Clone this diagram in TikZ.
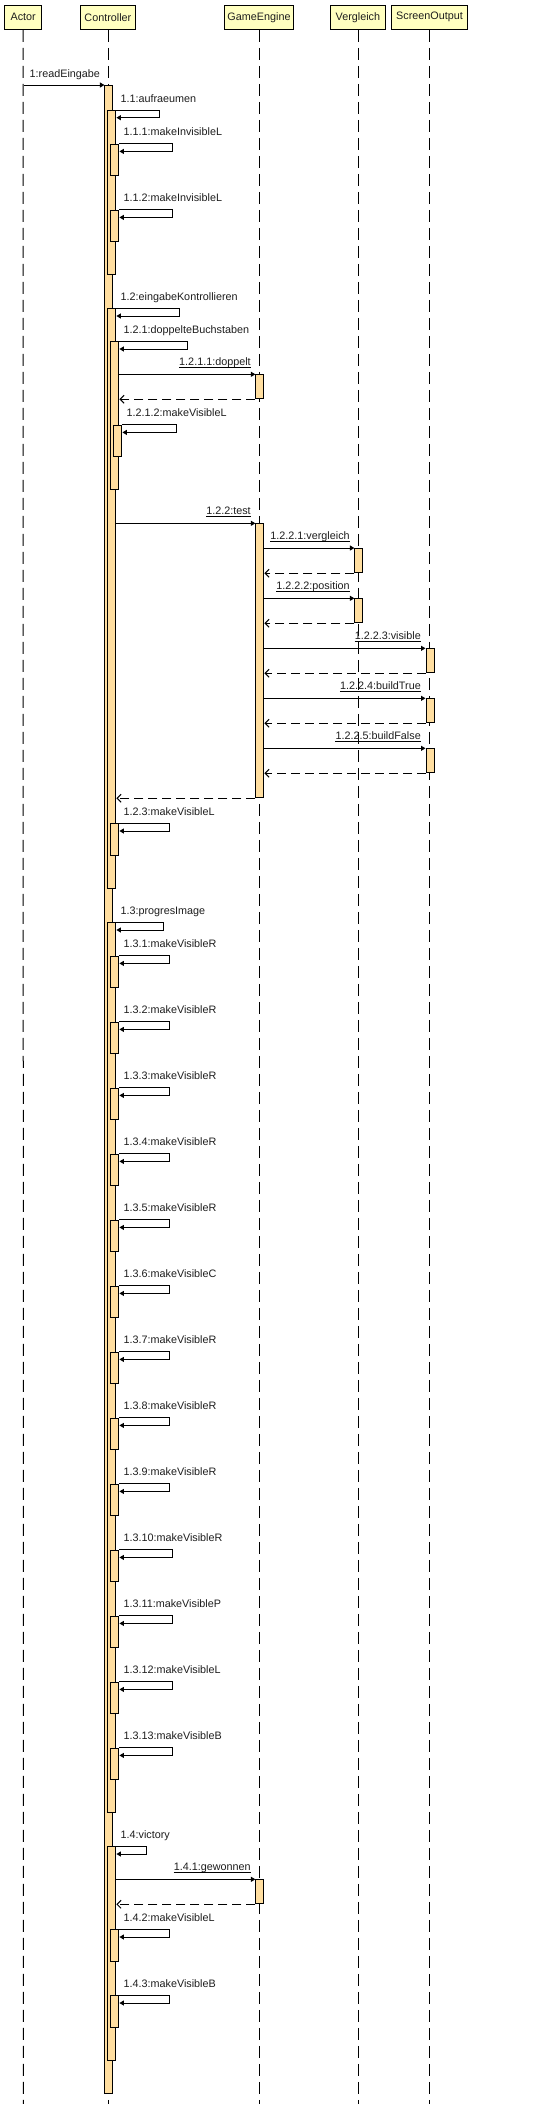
\documentclass[tikz,border=0pt]{standalone}
\usepackage{fontspec}
\setmainfont{Liberation Sans}
\usetikzlibrary{arrows.meta,calc}
\definecolor{actfill}{RGB}{255,222,160}
\definecolor{headfill}{RGB}{255,255,192}
\definecolor{txt}{RGB}{30,30,30}
\tikzset{
  head/.style={draw, line width=1pt, fill=headfill, inner sep=0pt, minimum height=24pt,
    font=\fontsize{10.8}{12}\selectfont, text=txt},
  actbox/.style={draw, line width=1pt, fill=actfill, inner sep=0pt, minimum width=8pt},
  lifeline/.style={line width=1pt, dash pattern=on 12pt off 6pt},
  msg/.style={line width=1pt, -{Triangle[length=4.5pt,width=5pt]}},
  ret/.style={line width=1pt, dash pattern=on 9pt off 5pt, -{Straight Barb[length=4pt,width=8pt]}},
  lbl/.style={inner sep=0pt, font=\fontsize{10.8}{12}\selectfont, text=txt},
  uline/.style={line width=0.9pt},
}
% activation box: name, x left, y top, y bottom
\newcommand\actbox[4]{%
  \node[actbox, minimum height={#4-#3}, anchor=north west] (#1) at (#2,#3) {};}
% self call: name, level, y top, y end, x right, label
\newcommand\selfmsg[6]{%
  \actbox{#1}{104.4+3*#2}{#3}{#4}
  \node[lbl, anchor=base west] (#1l) at (117.4+3*#2, #3-8) {#6};
  \coordinate (#1r) at (#5, #3+7.7);
  \draw[msg] (#1.north east) -- (#5,#3) -- (#1r) -- (#1.east |- #1r);}
% call to other lifeline: label name, source box, target box, target lifeline x, y start, y end, label
\newcommand\callmsg[7]{%
  \actbox{#3}{#4-4}{#5}{#6}
  \draw[msg] (#2.east |- #3.north west) -- (#3.north west);
  \draw[ret] (#3.south west) -- (#2.east |- #3.south west);
  \node[lbl, anchor=base east] (#1) at ($(#3.north west)+(-4.5,-8.5)$) {#7};
  \draw[uline] ([yshift=-1.9pt]#1.base west) -- ([yshift=-1.9pt]#1.base east);}
\begin{document}
\begin{tikzpicture}[x=1pt,y=-1pt]
\useasboundingbox[fill=white] (0,0) rectangle (550,2104);
% headers
\node[head, minimum width=36.5pt] (actor) at (23.2,17.3) {Actor};
\node[head, minimum width=55pt] (ctrl) at (107.9,17.3) {Controller};
\node[head, minimum width=68.7pt] (ge) at (259,17.3) {GameEngine};
\node[head, minimum width=54.8pt] (vgl) at (357.9,17.3) {Vergleich};
\node[head, minimum width=76.4pt] (so) at (429.5,17.3) {ScreenOutput};
% lifeline ends
\coordinate (actorEnd) at (23.3,2104);
\coordinate (ctrlEnd) at (108.4,2104);
\coordinate (geEnd) at (259.4,2104);
\coordinate (vglEnd) at (358.4,2104);
\coordinate (soEnd) at (429.5,2104);
\draw[lifeline] (actor.south) -- (actorEnd);
\draw[lifeline] (ctrl.south -| ctrlEnd) -- (ctrlEnd);
\draw[lifeline] (ge.south -| geEnd) -- (geEnd);
\draw[lifeline] (vgl.south -| vglEnd) -- (vglEnd);
\draw[lifeline] (so.south -| soEnd) -- (soEnd);
% main activation
\actbox{main}{104.4}{85}{2093.3}
\coordinate (a1) at (24,85);
\draw[msg] (a1) -- (main.north west);
\node[lbl, anchor=base west] (m1) at (29.5,77) {1:readEingabe};
% 1.1
\selfmsg{c11}{1}{110}{274.3}{159.6}{1.1:aufraeumen}
\selfmsg{c111}{2}{143.7}{175.3}{172.6}{1.1.1:makeInvisibleL}
\selfmsg{c112}{2}{209.7}{241.3}{172.6}{1.1.2:makeInvisibleL}
% 1.2
\selfmsg{c12}{1}{308.3}{888.3}{179.6}{1.2:eingabeKontrollieren}
\selfmsg{c121}{2}{341.3}{489.3}{187.7}{1.2.1:doppelteBuchstaben}
\callmsg{m1211}{c121}{ge1}{259.4}{374.3}{398.3}{1.2.1.1:doppelt}
\selfmsg{c1212}{3}{424.7}{456}{176.8}{1.2.1.2:makeVisibleL}
\callmsg{m122}{c12}{ge2}{259.4}{523.3}{797.3}{1.2.2:test}
\callmsg{m1221}{ge2}{v1}{358.4}{548}{572.3}{1.2.2.1:vergleich}
\callmsg{m1222}{ge2}{v2}{358.4}{598.3}{622.3}{1.2.2.2:position}
\callmsg{m1223}{ge2}{so1}{429.5}{648.3}{672.3}{1.2.2.3:visible}
\callmsg{m1224}{ge2}{so2}{429.5}{698.3}{722.3}{1.2.2.4:buildTrue}
\callmsg{m1225}{ge2}{so3}{429.5}{748.3}{772.3}{1.2.2.5:buildFalse}
\selfmsg{c123}{2}{823.3}{855.3}{169.8}{1.2.3:makeVisibleL}
% 1.3
\selfmsg{c13}{1}{922.3}{1812.3}{163.9}{1.3:progresImage}
\selfmsg{c131}{2}{955.7}{987.3}{169.8}{1.3.1:makeVisibleR}
\selfmsg{c132}{2}{1021.7}{1053.3}{169.8}{1.3.2:makeVisibleR}
\selfmsg{c133}{2}{1087.7}{1119.3}{169.8}{1.3.3:makeVisibleR}
\selfmsg{c134}{2}{1153.7}{1185.3}{169.8}{1.3.4:makeVisibleR}
\selfmsg{c135}{2}{1219.7}{1251.3}{169.8}{1.3.5:makeVisibleR}
\selfmsg{c136}{2}{1285.7}{1317.3}{169.8}{1.3.6:makeVisibleC}
\selfmsg{c137}{2}{1351.7}{1383.3}{169.8}{1.3.7:makeVisibleR}
\selfmsg{c138}{2}{1417.7}{1449.3}{169.8}{1.3.8:makeVisibleR}
\selfmsg{c139}{2}{1483.7}{1515.3}{169.8}{1.3.9:makeVisibleR}
\selfmsg{c1310}{2}{1549.7}{1581.3}{172.6}{1.3.10:makeVisibleR}
\selfmsg{c1311}{2}{1615.7}{1647.3}{172.6}{1.3.11:makeVisibleP}
\selfmsg{c1312}{2}{1681.7}{1713.3}{172.6}{1.3.12:makeVisibleL}
\selfmsg{c1313}{2}{1747.7}{1779.3}{172.6}{1.3.13:makeVisibleB}
% 1.4
\selfmsg{c14}{1}{1846.3}{2060.3}{146.3}{1.4:victory}
\callmsg{m141}{c14}{ge3}{259.4}{1879.3}{1903.3}{1.4.1:gewonnen}
\selfmsg{c142}{2}{1929.3}{1961.3}{169.8}{1.4.2:makeVisibleL}
\selfmsg{c143}{2}{1995.3}{2027.3}{169.8}{1.4.3:makeVisibleB}
\end{tikzpicture}
\end{document}
